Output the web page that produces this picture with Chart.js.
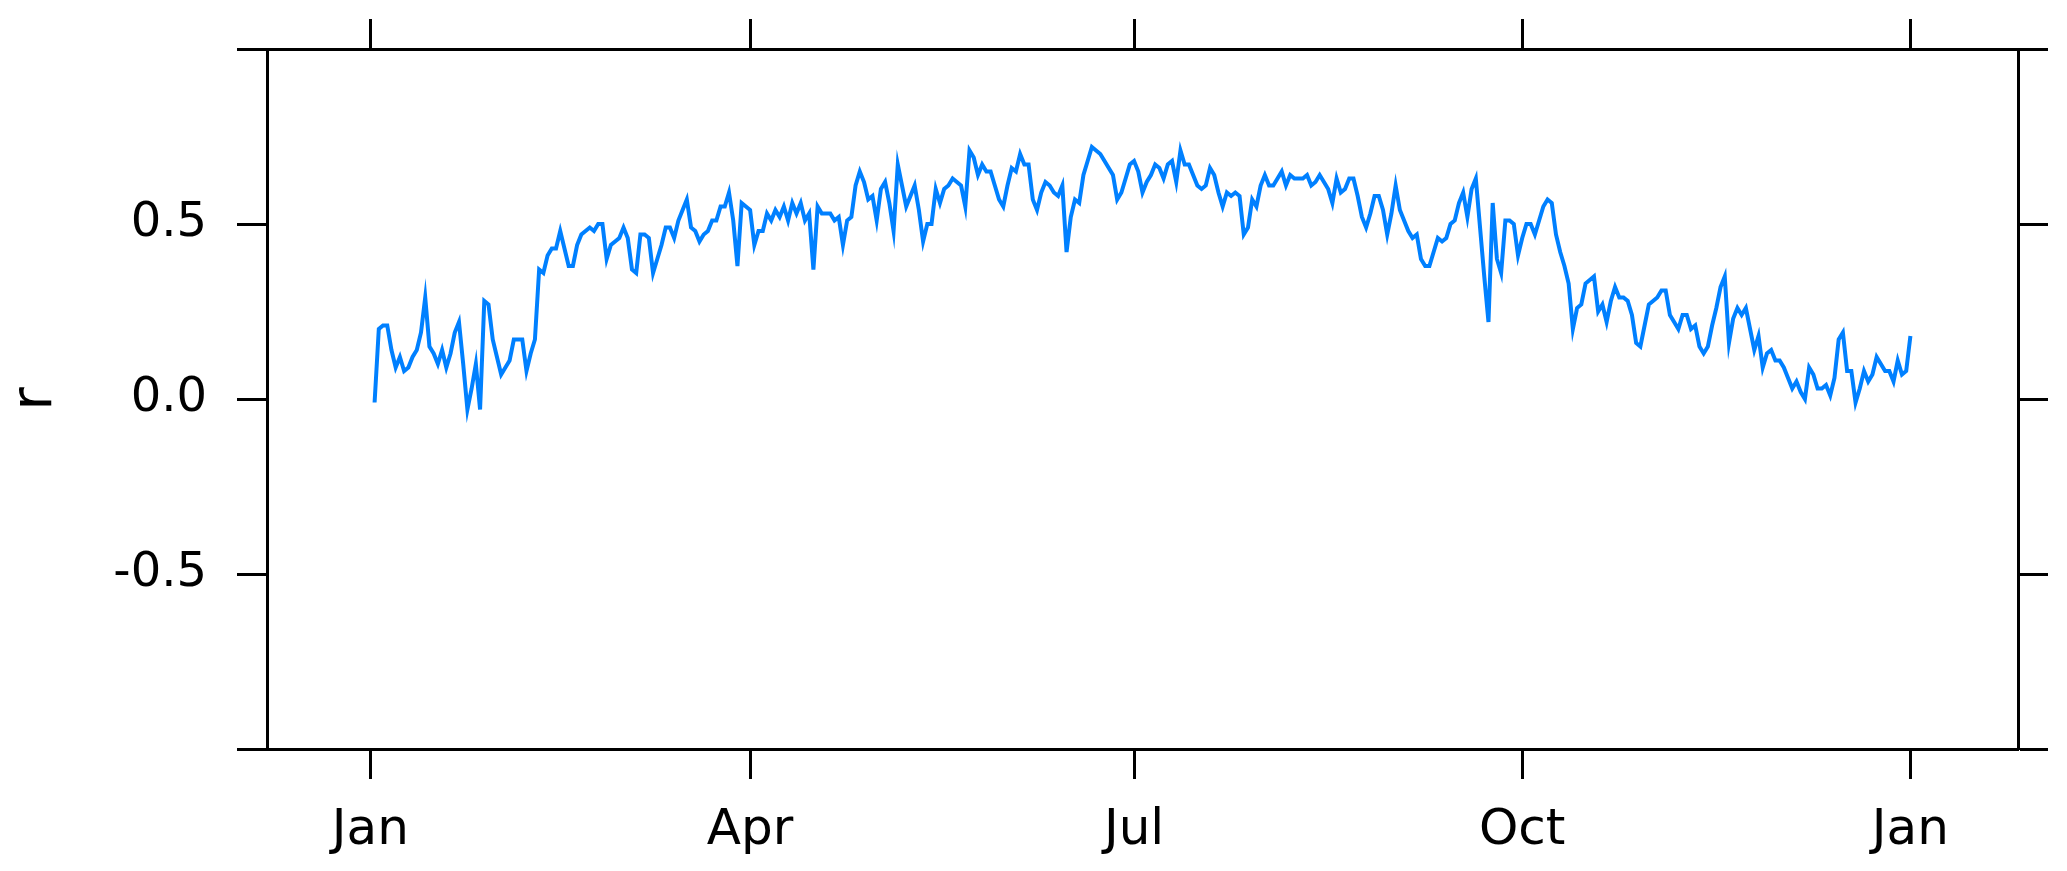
<!DOCTYPE html>
<html>
<head>
<meta charset="utf-8">
<script src="https://cdn.jsdelivr.net/npm/chart.js@4/dist/chart.umd.min.js"></script>
<style>
  body { margin: 0; background: #fff; }
  canvas { display: block; }
</style>
</head>
<body>
<canvas id="myChart" width="2067" height="871"></canvas>
<script>
// daily r values, day 1 = Jan 1
const janToMar = [
  -0.01, 0.20, 0.21, 0.21, 0.14, 0.09, 0.12, 0.08, 0.09, 0.12,
  0.14, 0.19, 0.29, 0.15, 0.13, 0.10, 0.14, 0.09, 0.13, 0.19,
  0.22, 0.10, -0.03, 0.03, 0.10, -0.03, 0.28, 0.27, 0.17, 0.12,
  0.07, 0.09, 0.11, 0.17, 0.17, 0.17, 0.08, 0.13, 0.17, 0.37,
  0.36, 0.41, 0.43, 0.43, 0.48, 0.43, 0.38, 0.38, 0.44, 0.47,
  0.48, 0.49, 0.48, 0.50, 0.50, 0.40, 0.44, 0.45, 0.46, 0.49,
  0.46, 0.37, 0.36, 0.47, 0.47, 0.46, 0.36, 0.40, 0.44, 0.49,
  0.49, 0.46, 0.51, 0.54, 0.57, 0.49, 0.48, 0.45, 0.47, 0.48,
  0.51, 0.51, 0.55, 0.55, 0.59, 0.51, 0.38, 0.56, 0.55, 0.54
];
const aprToJun = [
  0.44, 0.48, 0.48, 0.53, 0.51, 0.54, 0.52, 0.55, 0.51, 0.56,
  0.53, 0.56, 0.51, 0.53, 0.37, 0.55, 0.53, 0.53, 0.53, 0.51,
  0.52, 0.44, 0.51, 0.52, 0.61, 0.65, 0.62, 0.57, 0.58, 0.51,
  0.60, 0.62, 0.56, 0.48, 0.67, 0.61, 0.55, 0.58, 0.61, 0.54,
  0.45, 0.50, 0.50, 0.60, 0.56, 0.60, 0.61, 0.63, 0.62, 0.61,
  0.55, 0.71, 0.69, 0.64, 0.67, 0.65, 0.65, 0.61, 0.57, 0.55,
  0.61, 0.66, 0.65, 0.70, 0.67, 0.67, 0.57, 0.54, 0.59, 0.62,
  0.61, 0.59, 0.58, 0.61, 0.42, 0.52, 0.57, 0.56, 0.64, 0.68,
  0.72, 0.71, 0.70, 0.68, 0.66, 0.64, 0.57, 0.59, 0.63, 0.67,
  0.68
];
const julToSep = [
  0.65, 0.59, 0.62, 0.64, 0.67, 0.66, 0.63, 0.67, 0.68, 0.62,
  0.71, 0.67, 0.67, 0.64, 0.61, 0.60, 0.61, 0.66, 0.64, 0.59,
  0.55, 0.59, 0.58, 0.59, 0.58, 0.47, 0.49, 0.57, 0.55, 0.61,
  0.64, 0.61, 0.61, 0.63, 0.65, 0.61, 0.64, 0.63, 0.63, 0.63,
  0.64, 0.61, 0.62, 0.64, 0.62, 0.60, 0.56, 0.63, 0.59, 0.60,
  0.63, 0.63, 0.58, 0.52, 0.49, 0.53, 0.58, 0.58, 0.54, 0.47,
  0.53, 0.61, 0.54, 0.51, 0.48, 0.46, 0.47, 0.40, 0.38, 0.38,
  0.42, 0.46, 0.45, 0.46, 0.50, 0.51, 0.56, 0.59, 0.52, 0.60,
  0.63, 0.49, 0.35, 0.22, 0.56, 0.40, 0.36, 0.51, 0.51, 0.50,
  0.41, 0.46
];
const octToDec = [
  0.50, 0.50, 0.47, 0.51, 0.55, 0.57, 0.56, 0.47, 0.42, 0.38,
  0.33, 0.20, 0.26, 0.27, 0.33, 0.34, 0.35, 0.25, 0.27, 0.22,
  0.28, 0.32, 0.29, 0.29, 0.28, 0.24, 0.16, 0.15, 0.21, 0.27,
  0.28, 0.29, 0.31, 0.31, 0.24, 0.22, 0.20, 0.24, 0.24, 0.20,
  0.21, 0.15, 0.13, 0.15, 0.21, 0.26, 0.32, 0.35, 0.16, 0.23,
  0.26, 0.24, 0.26, 0.20, 0.14, 0.18, 0.09, 0.13, 0.14, 0.11,
  0.11, 0.09, 0.06, 0.03, 0.05, 0.02, 0.00, 0.09, 0.07, 0.03,
  0.03, 0.04, 0.01, 0.06, 0.17, 0.19, 0.08, 0.08, -0.01, 0.03,
  0.08, 0.05, 0.07, 0.12, 0.10, 0.08, 0.08, 0.05, 0.11, 0.07,
  0.08, 0.18
];

const monthDays = [0, 90, 181, 273, 365];
const monthLabels = ["Jan", "Apr", "Jul", "Oct", "Jan"];
const yTickValues = [-1, -0.5, 0, 0.5, 1];
const yTickLabels = ["", "-0.5", "0.0", "0.5", ""];

const rValues = janToMar.concat(aprToJun, julToSep, octToDec);
const points = rValues.map(function (v, i) {
  return { x: i + 1, y: v };
});

const xMin = -24.5;
const xMax = 390.5;
const fontFamily = "'DejaVu Sans', sans-serif";

const monthTicks = function (scale) {
  scale.ticks = monthDays.map(function (d) { return { value: d }; });
};
const yTicks = function (scale) {
  scale.ticks = yTickValues.map(function (v) { return { value: v }; });
};
// fixed axis sizes, no extra label padding so the box stays where it should
const fixWidth = function (w) {
  return function (s) { s.width = w; s.paddingTop = 0; s.paddingBottom = 0; };
};
const fixHeight = function (h) {
  return function (s) { s.height = h; s.paddingLeft = 0; s.paddingRight = 0; };
};

const gridOpts = { drawOnChartArea: false, tickLength: 30, tickWidth: 3, tickColor: "#000" };
const borderOpts = { color: "#000", width: 3 };

const ctx = document.getElementById("myChart").getContext("2d");
const myChart = new Chart(ctx, {
  type: "line",
  data: {
    datasets: [{
      data: points,
      borderColor: "#0080ff",
      borderWidth: 4,
      pointRadius: 0,
      tension: 0,
      fill: false
    }]
  },
  options: {
    responsive: false,
    animation: false,
    devicePixelRatio: 1,
    layout: { padding: 0 },
    plugins: { legend: { display: false }, tooltip: { enabled: false } },
    scales: {
      x: {
        type: "linear",
        position: "bottom",
        min: xMin,
        max: xMax,
        afterBuildTicks: monthTicks,
        afterFit: fixHeight(122),
        ticks: {
          autoSkip: false,
          maxRotation: 0,
          padding: 22,
          color: "#000",
          font: { family: fontFamily, size: 50 },
          callback: function (v, i) { return monthLabels[i]; }
        },
        grid: gridOpts,
        border: borderOpts
      },
      x2: {
        type: "linear",
        position: "top",
        min: xMin,
        max: xMax,
        afterBuildTicks: monthTicks,
        afterFit: fixHeight(49),
        ticks: { display: false },
        grid: gridOpts,
        border: borderOpts
      },
      y: {
        type: "linear",
        position: "left",
        min: -1,
        max: 1,
        afterBuildTicks: yTicks,
        afterFit: fixWidth(267),
        ticks: {
          padding: 30,
          color: "#000",
          font: { family: fontFamily, size: 48 },
          callback: function (v, i) { return yTickLabels[i]; }
        },
        title: {
          display: true,
          text: "r",
          color: "#000",
          font: { family: fontFamily, size: 57, lineHeight: 1 },
          padding: { top: 8, bottom: 0 }
        },
        grid: gridOpts,
        border: borderOpts
      },
      y2: {
        type: "linear",
        position: "right",
        min: -1,
        max: 1,
        afterBuildTicks: yTicks,
        afterFit: fixWidth(49),
        ticks: { display: false },
        grid: gridOpts,
        border: borderOpts
      }
    }
  }
});
</script>
</body>
</html>
